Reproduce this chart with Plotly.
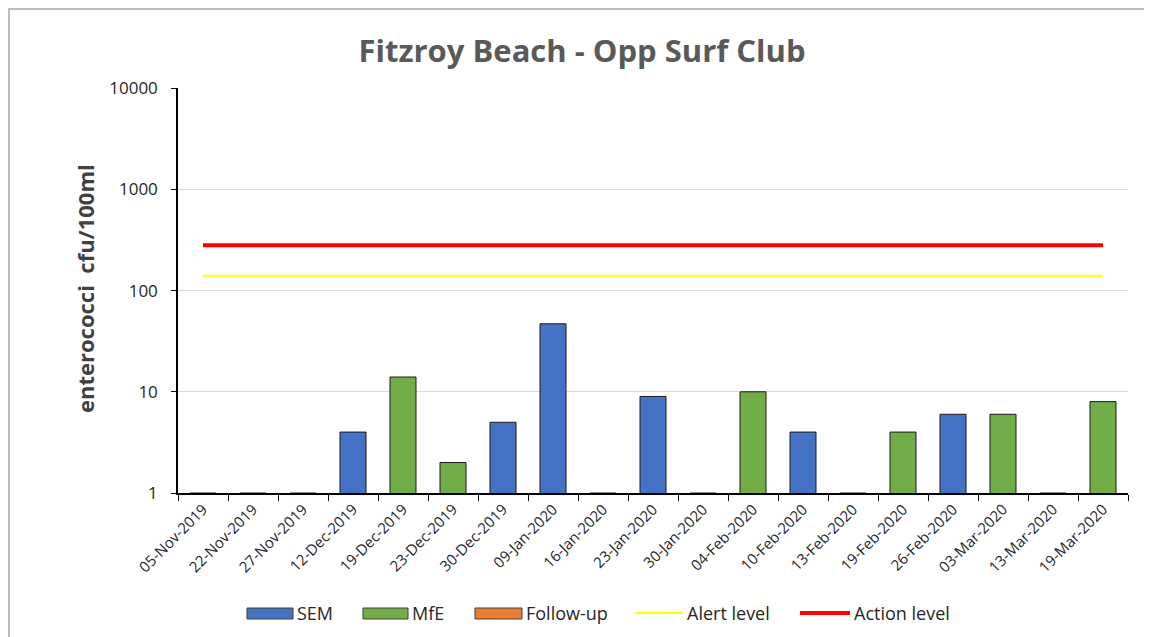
import plotly.graph_objects as go

dates = ["05-Nov-2019", "22-Nov-2019", "27-Nov-2019", "12-Dec-2019", "19-Dec-2019",
         "23-Dec-2019", "30-Dec-2019", "09-Jan-2020", "16-Jan-2020", "23-Jan-2020",
         "30-Jan-2020", "04-Feb-2020", "10-Feb-2020", "13-Feb-2020", "19-Feb-2020",
         "26-Feb-2020", "03-Mar-2020", "13-Mar-2020", "19-Mar-2020"]
sem = [1, 1, 1, 4, None, None, 5, 47, 1, 9, 1, None, 4, 1, None, 6, None, 1, None]
mfe = [None, None, None, None, 14, 2, None, None, None, None, None, 10, None, None, 4, None, 6, None, 8]
follow_up = [None] * len(dates)
alert_level = [140] * len(dates)
action_level = [280] * len(dates)
y_ticks = [1, 10, 100, 1000, 10000]
y_tick_labels = ["1", "10", "100", "1000", "10000"]

# page is rendered with an 8px body margin; work in page coords and shift
OFF = 8
W, H = 1152 - OFF, 637 - OFF
L, T = 178 - OFF, 88 - OFF
R = W - (1128 - OFF)
B = H - (493 - OFF)

fig = go.Figure()
fig.add_trace(go.Bar(x=dates, y=sem, name="SEM", marker=dict(color="#4472C4", line=dict(color="#1a1a1a", width=1)), width=0.52, showlegend=False))
fig.add_trace(go.Bar(x=dates, y=mfe, name="MfE", marker=dict(color="#70AD47", line=dict(color="#1a1a1a", width=1)), width=0.52, showlegend=False))
fig.add_trace(go.Bar(x=dates, y=follow_up, name="Follow-up", marker=dict(color="#ED7D31", line=dict(color="#1a1a1a", width=1)), width=0.52, showlegend=False))
fig.add_trace(go.Scatter(x=dates, y=alert_level, name="Alert level", mode="lines", line=dict(color="#FFFF00", width=2), showlegend=False))
fig.add_trace(go.Scatter(x=dates, y=action_level, name="Action level", mode="lines", line=dict(color="#FF0000", width=4), showlegend=False))

pw = W - L - R
ph = H - T - B
def px(x):
    return (x - OFF - L) / pw
def py(y):
    return (H - B - (y - OFF)) / ph

shapes = [dict(type="rect", xref="paper", yref="paper", x0=px(9), x1=px(1170), y0=py(660), y1=py(9),
               line=dict(color="#a6a6a6", width=1.5), fillcolor="rgba(0,0,0,0)", layer="below")]
annotations = []

# Custom legend (Excel-style wide swatches)
legend_y = py(613)
legend_items = [
    ("SEM", "rect", "#4472C4", 247, 293),
    ("MfE", "rect", "#70AD47", 363, 408),
    ("Follow-up", "rect", "#ED7D31", 475, 522),
    ("Alert level", "line", "#FFFF00", 635, 683),
    ("Action level", "line", "#FF0000", 800, 850),
]
for label, kind, color, x0, x1 in legend_items:
    if kind == "rect":
        shapes.append(dict(type="rect", xref="paper", yref="paper", x0=px(x0), x1=px(x1),
                           y0=py(619), y1=py(608), fillcolor=color, line=dict(color="#404040", width=1)))
    else:
        shapes.append(dict(type="line", xref="paper", yref="paper", x0=px(x0), x1=px(x1),
                           y0=legend_y, y1=legend_y, line=dict(color=color, width=2 if color == "#FFFF00" else 4)))
    annotations.append(dict(text=label, xref="paper", yref="paper", x=px(x1 + 2), y=legend_y,
                            xanchor="left", yanchor="middle", showarrow=False,
                            font=dict(size=18, color="#262626", family="Open Sans, Liberation Sans")))

annotations.append(dict(text="<b>enterococci\u00a0\u00a0cfu/100ml</b>", xref="paper", yref="paper",
                        x=px(85), y=py(289), textangle=-90, showarrow=False,
                        xanchor="center", yanchor="middle",
                        font=dict(size=22, color="#404040", family="Open Sans, Liberation Sans")))

fig.update_layout(
    width=W, height=H,
    margin=dict(l=L, r=R, t=T, b=B),
    paper_bgcolor="white", plot_bgcolor="white",
    barmode="overlay",
    font=dict(family="Open Sans, Liberation Sans, Arial", color="#000000", size=14),
    title=dict(text="<b>Fitzroy Beach - Opp Surf Club</b>", x=(582 - OFF) / W, xanchor="center", xref="container",
               y=1 - (51 - OFF) / H, yanchor="middle", font=dict(size=31, color="#595959", family="Open Sans, Liberation Sans")),
    xaxis=dict(type="category", tickangle=-45, showgrid=False, showline=True, linecolor="#000000", linewidth=1.5,
               ticks="outside", ticklen=6, tickcolor="#000000", tickson="boundaries", automargin=False,
               tickfont=dict(size=15, color="#262626"), range=[-0.5, len(dates) - 0.5]),
    yaxis=dict(type="log", range=[0, 4.002], tickvals=y_ticks, ticktext=y_tick_labels, automargin=False,
               showgrid=True, gridcolor="#d9d9d9", gridwidth=1, showline=True, linecolor="#000000", linewidth=1.5,
               ticks="outside", ticklen=5, tickcolor="#000000", zeroline=False, ticklabelstandoff=10,
               tickfont=dict(size=17, color="#262626")),
    showlegend=False,
    shapes=shapes,
    annotations=annotations,
)

fig.write_html("out.html")
